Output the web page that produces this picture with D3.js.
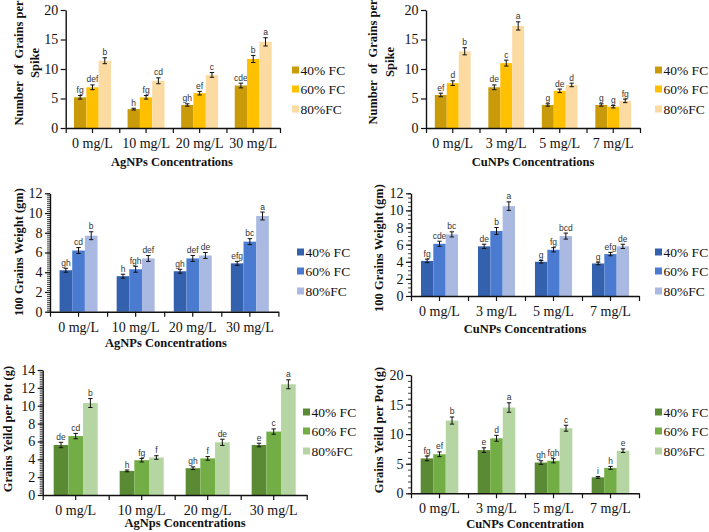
<!DOCTYPE html>
<html><head><meta charset="utf-8">
<script src="https://cdn.jsdelivr.net/npm/d3@7"></script>
<style>
body{margin:0;background:#fff}
svg{display:block}
text{font-family:"Liberation Serif","Times New Roman",serif}
</style>
</head><body>
<svg id="chart" width="709" height="532"></svg>
<script>
// ---------- data ----------
const seriesNames = ["40% FC", "60% FC", "80%FC"];
const categoriesAg = ["0 mg/L", "10 mg/L", "20 mg/L", "30 mg/L"];
const categoriesCu = ["0 mg/L", "3 mg/L", "5 mg/L", "7 mg/L"];

// Number of grains per spike – AgNPs (rows = 40%, 60%, 80% FC)
const spikeAgValues = [[5.2, 3.2, 3.9, 7.2], [6.9, 5.2, 5.9, 11.7], [11.4, 8.0, 9.0, 14.6]];
const spikeAgErrors = [[0.3, 0.15, 0.2, 0.4], [0.4, 0.3, 0.3, 0.6], [0.5, 0.5, 0.4, 0.7]];
const spikeAgLetters = [["fg", "h", "gh", "cde"], ["def", "fg", "ef", "b"], ["b", "cd", "c", "a"]];

// Number of grains per spike – CuNPs
const spikeCuValues = [[5.6, 6.9, 3.9, 3.9], [7.6, 11.0, 6.3, 3.6], [13.0, 17.3, 7.3, 4.6]];
const spikeCuErrors = [[0.3, 0.4, 0.2, 0.2], [0.4, 0.5, 0.3, 0.2], [0.6, 0.7, 0.3, 0.3]];
const spikeCuLetters = [["ef", "de", "g", "g"], ["d", "c", "de", "g"], ["b", "a", "d", "fg"]];

// 100 grains weight – AgNPs
const weightAgValues = [[4.2, 3.6, 4.1, 4.9], [6.2, 4.3, 5.4, 7.1], [7.7, 5.4, 5.7, 9.7]];
const weightAgErrors = [[0.2, 0.2, 0.2, 0.2], [0.3, 0.3, 0.3, 0.3], [0.4, 0.3, 0.3, 0.4]];
const weightAgLetters = [["gh", "h", "gh", "efg"], ["cd", "fgh", "def", "bc"], ["b", "def", "de", "a"]];

// 100 grains weight – CuNPs
const weightCuValues = [[4.1, 5.8, 4.0, 3.8], [6.1, 7.6, 5.4, 4.9], [7.2, 10.5, 7.0, 5.8]];
const weightCuErrors = [[0.2, 0.25, 0.15, 0.15], [0.3, 0.4, 0.25, 0.2], [0.3, 0.5, 0.35, 0.25]];
const weightCuLetters = [["fg", "de", "g", "g"], ["cde", "b", "fg", "efg"], ["bc", "a", "bcd", "de"]];

// Grains yield per pot – AgNPs
const yieldAgValues = [[5.6, 2.7, 3.0, 5.6], [6.6, 3.9, 4.1, 7.1], [10.3, 4.2, 5.9, 12.4]];
const yieldAgErrors = [[0.3, 0.1, 0.15, 0.2], [0.3, 0.2, 0.2, 0.3], [0.5, 0.2, 0.35, 0.5]];
const yieldAgLetters = [["de", "h", "gh", "e"], ["cd", "fg", "f", "c"], ["b", "f", "de", "a"]];

// Grains yield per pot – CuNPs
const yieldCuValues = [[5.9, 7.3, 5.2, 2.7], [6.6, 9.3, 5.5, 4.3], [12.3, 14.5, 11.0, 7.2]];
const yieldCuErrors = [[0.4, 0.4, 0.3, 0.15], [0.4, 0.5, 0.35, 0.25], [0.6, 0.8, 0.5, 0.3]];
const yieldCuLetters = [["fg", "e", "gh", "i"], ["ef", "d", "fgh", "h"], ["b", "a", "c", "e"]];

// tick labels
const ticks20 = [0, 5, 10, 15, 20];
const ticks12 = [0, 2, 4, 6, 8, 10, 12];
const ticks14 = [0, 2, 4, 6, 8, 10, 12, 14];

// palettes
const goldColors = ["#C99B0A", "#FFC000", "#FCDBA3"];
const blueColors = ["#3461AE", "#4A7BD0", "#AAB9E2"];
const greenColors = ["#5A8A34", "#72AE45", "#B5D6A2"];

// ---------- layout ----------
const panels = [
  {cats: categoriesAg, vals: spikeAgValues, errs: spikeAgErrors, lets: spikeAgLetters, colors: goldColors,
   x0: 65.7, x1: 280, yTop: 10, yBot: 128, yMax: 20, yTicks: ticks20, minor: 0, pi: 0.31,
   yTitle: ["Number  of  Grains per", "Spike"], yTitleX: [19, 35], yTitleY: 63,
   xTitle: "AgNPs Concentrations", xTitleX: 172, xTitleY: 162,
   legX: 292, legY: [70, 89, 109]},
  {cats: categoriesCu, vals: spikeCuValues, errs: spikeCuErrors, lets: spikeCuLetters, colors: goldColors,
   x0: 426, x1: 640, yTop: 10, yBot: 128, yMax: 20, yTicks: ticks20, minor: 0, pi: 0.33,
   yTitle: ["Number  of  Grains per", "Spike"], yTitleX: [373, 390], yTitleY: 62,
   xTitle: "CuNPs Concentrations", xTitleX: 533, xTitleY: 162,
   legX: 655, legY: [70, 89, 109]},
  {cats: categoriesAg, vals: weightAgValues, errs: weightAgErrors, lets: weightAgLetters, colors: blueColors,
   x0: 50, x1: 278.4, yTop: 193.3, yBot: 311.7, yMax: 12, yTicks: ticks12, minor: 0.2, pi: 0.335,
   yTitle: ["100 Grains Weight (gm)"], yTitleX: [19], yTitleY: 252,
   xTitle: "AgNPs Concentrations", xTitleX: 166, xTitleY: 343,
   legX: 297, legY: [252, 271, 291]},
  {cats: categoriesCu, vals: weightCuValues, errs: weightCuErrors, lets: weightCuLetters, colors: blueColors,
   x0: 411, x1: 639, yTop: 193.3, yBot: 296, yMax: 12, yTicks: ticks12, minor: 0.5, pi: 0.35,
   yTitle: ["100 Grains Weight (gm)"], yTitleX: [379], yTitleY: 248,
   xTitle: "CuNPs Concentrations", xTitleX: 525, xTitleY: 329,
   legX: 655, legY: [252, 271, 291]},
  {cats: categoriesAg, vals: yieldAgValues, errs: yieldAgErrors, lets: yieldAgLetters, colors: greenColors,
   x0: 42.7, x1: 306.7, yTop: 370, yBot: 495, yMax: 14, yTicks: ticks14, minor: 0.2, pi: 0.333,
   yTitle: ["Grains Yeild per Pot (g)"], yTitleX: [8], yTitleY: 429,
   xTitle: "AgNps Concentrations", xTitleX: 185, xTitleY: 523,
   legX: 303, legY: [412, 431, 451]},
  {cats: categoriesCu, vals: yieldCuValues, errs: yieldCuErrors, lets: yieldCuLetters, colors: greenColors,
   x0: 411, x1: 639, yTop: 375, yBot: 493.3, yMax: 20, yTicks: ticks20, minor: 1, pi: 0.34,
   yTitle: ["Grains Yeild per Pot (g)"], yTitleX: [379], yTitleY: 430,
   xTitle: "CuNPs Concentration", xTitleX: 525, xTitleY: 523.5,
   legX: 655, legY: [412, 431, 451]}
];

const svg = d3.select("#chart");
svg.append("rect").attr("width", 709).attr("height", 532).attr("fill", "#fff");

function drawPanel(p) {
  const g = svg.append("g");
  const x = d3.scaleBand().domain(p.cats).range([p.x0, p.x1]).paddingInner(p.pi).paddingOuter(p.pi / 2);
  const xs = d3.scaleBand().domain(seriesNames).range([0, x.bandwidth()]);
  const y = d3.scaleLinear().domain([0, p.yMax]).range([p.yBot, p.yTop]);

  // bars
  seriesNames.forEach((s, si) => {
    const rows = p.cats.map((c, ci) => ({c, v: p.vals[si][ci], e: p.errs[si][ci], l: p.lets[si][ci]}));
    const sg = g.append("g");
    sg.selectAll("rect").data(rows).join("rect")
      .attr("x", d => x(d.c) + xs(s))
      .attr("width", xs.bandwidth())
      .attr("y", d => y(d.v))
      .attr("height", d => y(0) - y(d.v))
      .attr("fill", p.colors[si]);
    // error bars
    const eb = sg.selectAll("g.err").data(rows).join("g").attr("class", "err");
    eb.append("line")
      .attr("x1", d => x(d.c) + xs(s) + xs.bandwidth() / 2)
      .attr("x2", d => x(d.c) + xs(s) + xs.bandwidth() / 2)
      .attr("y1", d => y(d.v - d.e)).attr("y2", d => y(d.v + d.e))
      .attr("stroke", "#111").attr("stroke-width", 1);
    [d => d.v - d.e, d => d.v + d.e].forEach(fn => {
      eb.append("line")
        .attr("x1", d => x(d.c) + xs(s) + xs.bandwidth() / 2 - 2.2)
        .attr("x2", d => x(d.c) + xs(s) + xs.bandwidth() / 2 + 2.2)
        .attr("y1", d => y(fn(d))).attr("y2", d => y(fn(d)))
        .attr("stroke", "#111").attr("stroke-width", 1);
    });
    // letters
    sg.selectAll("text").data(rows).join("text")
      .attr("x", d => x(d.c) + xs(s) + xs.bandwidth() / 2)
      .attr("y", d => y(d.v + d.e) - 2.5)
      .attr("text-anchor", "middle")
      .style("font-family", "'Liberation Sans', Arial, sans-serif")
      .style("font-size", "8.5px")
      .attr("fill", "#333")
      .text(d => d.l);
  });

  // y axis minor ticks
  if (p.minor > 0) {
    const minorVals = d3.range(0, p.yMax + 1e-9, p.minor);
    const ma = g.append("g").attr("transform", `translate(${p.x0},0)`)
      .call(d3.axisLeft(y).tickValues(minorVals).tickSize(3).tickSizeOuter(0).tickFormat(""));
    ma.select(".domain").remove();
    ma.selectAll("line").attr("stroke", "#111").attr("stroke-width", 0.8);
  }
  // y axis major
  const ya = g.append("g").attr("transform", `translate(${p.x0},0)`)
    .call(d3.axisLeft(y).tickValues(p.yTicks).tickSize(5).tickSizeOuter(0).tickPadding(2.5));
  ya.select(".domain").attr("stroke", "#111").attr("stroke-width", 1.4);
  ya.selectAll("line").attr("stroke", "#111").attr("stroke-width", 1.2);
  ya.selectAll("text").style("font-family", "'Liberation Serif', serif").style("font-size", "14px").attr("fill", "#111");

  // x axis: boundary ticks
  const xb = d3.scaleLinear().domain([0, p.cats.length]).range([p.x0, p.x1]);
  const xba = g.append("g").attr("transform", `translate(0,${p.yBot})`)
    .call(d3.axisBottom(xb).tickValues(d3.range(0, p.cats.length + 1)).tickSize(5).tickSizeOuter(0).tickFormat(""));
  xba.select(".domain").attr("stroke", "#111").attr("stroke-width", 1.4);
  xba.selectAll("line").attr("stroke", "#111").attr("stroke-width", 1.2);
  // x axis: centre ticks + category labels
  const xa = g.append("g").attr("transform", `translate(0,${p.yBot})`)
    .call(d3.axisBottom(x).tickSize(5).tickSizeOuter(0).tickPadding(5));
  xa.select(".domain").remove();
  xa.selectAll("line").attr("stroke", "#111").attr("stroke-width", 1.2);
  xa.selectAll("text").style("font-family", "'Liberation Serif', serif").style("font-size", "14px").attr("fill", "#111");

  // y title
  p.yTitle.forEach((t, i) => {
    g.append("text")
      .attr("transform", `translate(${p.yTitleX[i]},${p.yTitleY}) rotate(-90)`)
      .attr("text-anchor", "middle").attr("dy", "0.35em")
      .style("font-weight", "bold").style("font-size", "12.5px").style("white-space", "pre")
      .attr("fill", "#111")
      .text(t);
  });
  // x title
  g.append("text")
    .attr("x", p.xTitleX).attr("y", p.xTitleY).attr("dy", "0.35em")
    .attr("text-anchor", "middle")
    .style("font-weight", "bold").style("font-size", "12.5px")
    .attr("fill", "#111")
    .text(p.xTitle);

  // legend
  seriesNames.forEach((s, si) => {
    g.append("rect").attr("x", p.legX).attr("y", p.legY[si] - 3.5).attr("width", 7).attr("height", 7)
      .attr("fill", p.colors[si]);
    g.append("text").attr("x", p.legX + 8.5).attr("y", p.legY[si]).attr("dy", "0.35em")
      .style("font-size", "13.5px").attr("fill", "#111").text(s);
  });
}

panels.forEach(drawPanel);
</script>
</body></html>
